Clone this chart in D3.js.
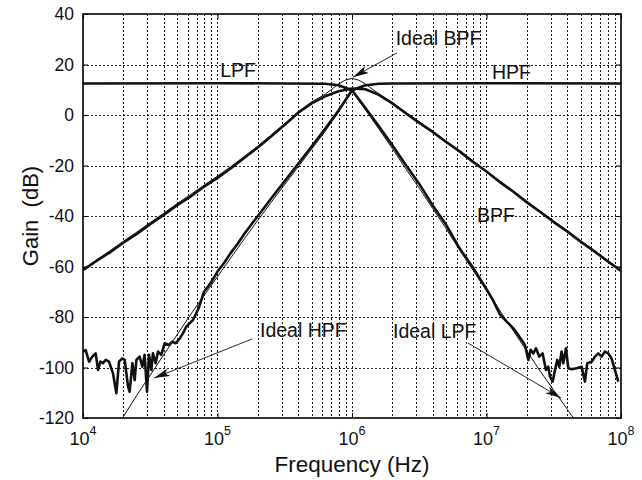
<!DOCTYPE html>
<html><head><meta charset="utf-8">
<script src="https://cdn.jsdelivr.net/npm/d3@7"></script>
<style>body{margin:0;background:#fff}svg{display:block}text{font-family:"Liberation Sans",Arial,Helvetica,sans-serif;fill:#111}</style>
</head><body>
<script>
// ---- data ----
const xTickExps = [4, 5, 6, 7, 8];
const yTicks = [40, 20, 0, -20, -40, -60, -80, -100, -120];

// measured BPF (thick)
const bpfMeasLog = [4.0,4.1,4.2,4.3,4.4,4.5,4.6,4.7,4.8,4.9,5.0,5.1,5.2,5.3,5.4,5.5,5.6,5.7,5.8,5.9,6.0,6.1,6.2,6.3,6.4,6.5,6.6,6.7,6.8,6.9,7.0,7.1,7.2,7.3,7.4,7.5,7.6,7.7,7.8,7.9,8.0];
const bpfMeasGain = [-61.5,-57.8,-54.4,-50.6,-47.1,-43.2,-39.6,-35.7,-32.3,-28.4,-24.9,-21.1,-16.9,-12.9,-8.4,-3.9,0.9,4.6,7.4,9.4,10.5,10.2,8,4.6,0.7,-3.1,-6.7,-10.7,-14.4,-18.6,-22.4,-26.6,-30.4,-34.6,-38.4,-42.4,-46.1,-50.2,-53.9,-57.9,-61.8];
// ideal BPF (thin)
const bpfIdealLog = [4.0,4.1,4.2,4.3,4.4,4.5,4.6,4.7,4.8,4.9,5.0,5.1,5.2,5.3,5.4,5.5,5.6,5.7,5.8,5.85,5.9,5.95,6.0,6.05,6.1,6.15,6.2,6.3,6.4,6.5,6.6,6.7,6.8,6.9,7.0,7.1,7.2,7.3,7.4,7.5,7.6,7.7,7.8,7.9,8.0];
const bpfIdealGain = [-61,-57.4,-53.8,-50,-46.4,-42.6,-38.9,-35.1,-31.5,-27.8,-24.2,-20.4,-16.4,-12.3,-7.9,-3.4,1.3,5.2,8.2,10.2,12.3,13.8,14.5,13.8,12.3,10.3,8.4,4.9,1.1,-2.7,-6.4,-10.3,-14.1,-18.1,-22.1,-26.1,-30.1,-34.1,-38.1,-42,-45.8,-49.7,-53.6,-57.5,-61.4];

// measured LPF (thick)
const lpfMeasLog = [4.0,5.0,5.5,5.8,5.9,6.0,6.1,6.2,6.3,6.4,6.5,6.6,6.7,6.8,6.9,7.0,7.05,7.10,7.15,7.2,7.236,7.261,7.286,7.311,7.328,7.348,7.368,7.392,7.417,7.442,7.459,7.472,7.492,7.509,7.526,7.541,7.558,7.571,7.591,7.608,7.633,7.67,7.707,7.732,7.749,7.782,7.806,7.831,7.856,7.881,7.905,7.930,7.955,7.980];
const lpfMeasGain = [12.5,12.6,12.5,12.4,11.8,9.8,2.8,-4.5,-12,-19.8,-27.3,-35.8,-43.5,-52.8,-60.5,-69,-73.5,-79,-81.8,-84.5,-87.1,-89.1,-91.1,-97,-93,-94.4,-92.4,-95.7,-94.4,-101,-99.7,-103.6,-105.6,-101,-97,-99.7,-93.7,-98.3,-92.4,-100.3,-100.7,-100.3,-99.7,-105.6,-98.3,-97.7,-95.7,-94.4,-95.7,-93.7,-94.4,-96.4,-101,-105.6];
// ideal LPF (thin)
const lpfIdealLog = [4.0,5.7,5.8,5.9,6.0,6.1,6.2,6.3,6.4,6.5,6.6,6.7,6.8,6.9,7.0,7.1,7.2,7.3,7.4,7.5,7.6,7.7];
const lpfIdealGain = [12.5,12.5,12.3,11.6,9.5,2,-5.5,-13.3,-21.3,-29,-37,-45,-53.5,-61.5,-69.5,-77.5,-85.5,-93.5,-101.5,-109,-116.5,-124];

// measured HPF (thick)
const hpfMeasLog = [4.000,4.020,4.045,4.069,4.094,4.112,4.129,4.149,4.169,4.193,4.223,4.248,4.268,4.292,4.310,4.335,4.347,4.367,4.384,4.397,4.421,4.441,4.458,4.476,4.491,4.508,4.520,4.540,4.558,4.582,4.607,4.639,4.664,4.689,4.719,4.743,4.768,4.818,4.860,4.900,4.950,5.000,5.050,5.100,5.150,5.200,5.250,5.300,5.350,5.400,5.500,5.600,5.700,5.800,5.900,6.000,6.100,6.200,6.300,7.000,8.000];
const hpfMeasGain = [-93.7,-93.1,-97.7,-95.7,-94.4,-101,-97.7,-98.3,-97,-97.7,-102.3,-110.2,-97.7,-96.4,-97,-107.6,-109.6,-98.3,-105,-97,-95.7,-99.7,-95,-109.6,-95,-101,-94.4,-98.3,-93.7,-95,-90.4,-91.1,-89.8,-90.4,-88.5,-86.5,-83.8,-81.2,-76.5,-70,-66.5,-62,-58.5,-54.5,-51,-47,-43.5,-40,-36.5,-33,-26.2,-19.3,-12.5,-5.5,1.8,9.8,11.8,12.4,12.5,12.6,12.5];
// ideal HPF (thin)
const hpfIdealLog = [4.2,4.3,4.4,4.5,4.6,4.7,4.8,4.9,5.0,5.1,5.2,5.3,5.4,5.5,5.6,5.7,5.8,5.9,6.0,6.1,6.2,6.3,8.0];
const hpfIdealGain = [-128,-119.5,-111,-103,-95,-87,-79,-71.5,-64,-56.5,-49,-41.7,-34.5,-27.5,-20.5,-13.5,-6.5,1.2,9.5,11.6,12.3,12.5,12.5];

// annotations (text, anchor freq exponent, gain)
const labels = [
  {t:"LPF", e:5.02, g:15.0},
  {t:"HPF", e:7.04, g:14.3},
  {t:"Ideal BPF", e:6.325, g:27.7},
  {t:"BPF", e:6.93, g:-42.4},
  {t:"Ideal HPF", e:5.316, g:-87.9},
  {t:"Ideal LPF", e:6.305, g:-88.3}
];
const arrows = [
  {e0:6.335, g0:24.6, e1:6.007, g1:15.0},
  {e0:5.257, g0:-88.7, e1:4.528, g1:-104.2},
  {e0:6.862, g0:-90.3, e1:7.554, g1:-112.1}
];

// ---- layout ----
const W = 642, H = 480;
const L = 83, T = 14, R = 621, B = 418;
const svg = d3.select("body").append("svg").attr("width", W).attr("height", H);
const x = d3.scaleLog().domain([1e4, 1e8]).range([L, R]);
const y = d3.scaleLinear().domain([-120, 40]).range([B, T]);
const P = e => Math.pow(10, e);

// grid
const minor = [];
for (let d = 4; d < 8; d++) for (let k = 2; k <= 9; k++) minor.push(k * P(d));
const gx = svg.append("g").attr("stroke", "#000").attr("stroke-width", 0.9).attr("stroke-dasharray", "2,2");
gx.selectAll("line.v").data(minor.concat(xTickExps.slice(1, -1).map(P))).join("line")
  .attr("x1", d => Math.round(x(d)) + 0.5).attr("x2", d => Math.round(x(d)) + 0.5).attr("y1", T).attr("y2", B);
gx.selectAll("line.h").data(yTicks.slice(1, -1)).join("line")
  .attr("x1", L).attr("x2", R).attr("y1", d => Math.round(y(d)) + 0.5).attr("y2", d => Math.round(y(d)) + 0.5);

// axes
const fmtY = d => (d < 0 ? "-" : "") + Math.abs(d);
const ax = svg.append("g").attr("transform", `translate(${L},0)`)
  .call(d3.axisLeft(y).tickValues(yTicks).tickSize(-5).tickPadding(9).tickFormat(fmtY));
ax.select(".domain").remove();
ax.selectAll("text").attr("font-size", 17.5).attr("font-family", "Liberation Sans, Arial, sans-serif");
ax.selectAll("line").attr("stroke", "#000");
const axr = svg.append("g").attr("transform", `translate(${R},0)`)
  .call(d3.axisRight(y).tickValues(yTicks).tickSize(-5).tickFormat(""));
axr.select(".domain").remove();
const axb = svg.append("g").attr("transform", `translate(0,${B})`)
  .call(d3.axisBottom(x).tickValues(xTickExps.map(P)).tickSize(-5).tickFormat(""));
axb.select(".domain").remove();
const axt = svg.append("g").attr("transform", `translate(0,${T})`)
  .call(d3.axisTop(x).tickValues(xTickExps.map(P)).tickSize(-5).tickFormat(""));
axt.select(".domain").remove();

// x tick labels 10^n
const xl = svg.append("g").selectAll("text").data(xTickExps).join("text")
  .attr("x", d => x(P(d))).attr("y", B + 27).attr("text-anchor", "middle").attr("font-size", 18);
xl.append("tspan").text("10");
xl.append("tspan").text(d => d).attr("font-size", 12.5).attr("dy", -10);

// clip
svg.append("clipPath").attr("id", "clip").append("rect").attr("x", L).attr("y", T).attr("width", R - L).attr("height", B - T);
const plot = svg.append("g").attr("clip-path", "url(#clip)");
const line = d3.line().x(d => x(P(d[0]))).y(d => y(d[1]));
const zip = (a, b) => a.map((v, i) => [v, b[i]]);
const series = [
  {l: lpfIdealLog, g: lpfIdealGain, w: 1},
  {l: hpfIdealLog, g: hpfIdealGain, w: 1},
  {l: bpfIdealLog, g: bpfIdealGain, w: 1},
  {l: lpfMeasLog, g: lpfMeasGain, w: 2.6},
  {l: hpfMeasLog, g: hpfMeasGain, w: 2.6},
  {l: bpfMeasLog, g: bpfMeasGain, w: 2.6}
];
plot.selectAll("path.s").data(series).join("path")
  .attr("fill", "none").attr("stroke", "#111").attr("stroke-linejoin", "round")
  .attr("stroke-width", d => d.w).attr("d", d => line(zip(d.l, d.g)));

// frame
svg.append("rect").attr("x", L).attr("y", T).attr("width", R - L).attr("height", B - T)
  .attr("fill", "none").attr("stroke", "#000").attr("stroke-width", 1.6);

// arrows
svg.append("defs").append("marker").attr("id", "ah").attr("viewBox", "0 0 16 8")
  .attr("refX", 16).attr("refY", 4).attr("markerWidth", 16).attr("markerHeight", 8)
  .attr("markerUnits", "userSpaceOnUse").attr("orient", "auto")
  .append("path").attr("d", "M0,0 L16,4 L0,8 L4,4 Z").attr("fill", "#111");
svg.append("g").selectAll("line").data(arrows).join("line")
  .attr("x1", d => x(P(d.e0))).attr("y1", d => y(d.g0))
  .attr("x2", d => x(P(d.e1))).attr("y2", d => y(d.g1))
  .attr("stroke", "#111").attr("stroke-width", 0.9).attr("marker-end", "url(#ah)");

// labels
svg.append("g").selectAll("text").data(labels).join("text")
  .attr("x", d => x(P(d.e))).attr("y", d => y(d.g)).attr("font-size", 19.5).text(d => d.t);

// axis titles
svg.append("text").attr("x", (L + R) / 2).attr("y", 472).attr("text-anchor", "middle")
  .attr("font-size", 22.5).text("Frequency (Hz)");
svg.append("text").attr("transform", `translate(38,${(T + B) / 2}) rotate(-90)`)
  .attr("text-anchor", "middle").attr("font-size", 22).attr("xml:space", "preserve").text("Gain  (dB)");
</script>
</body></html>
